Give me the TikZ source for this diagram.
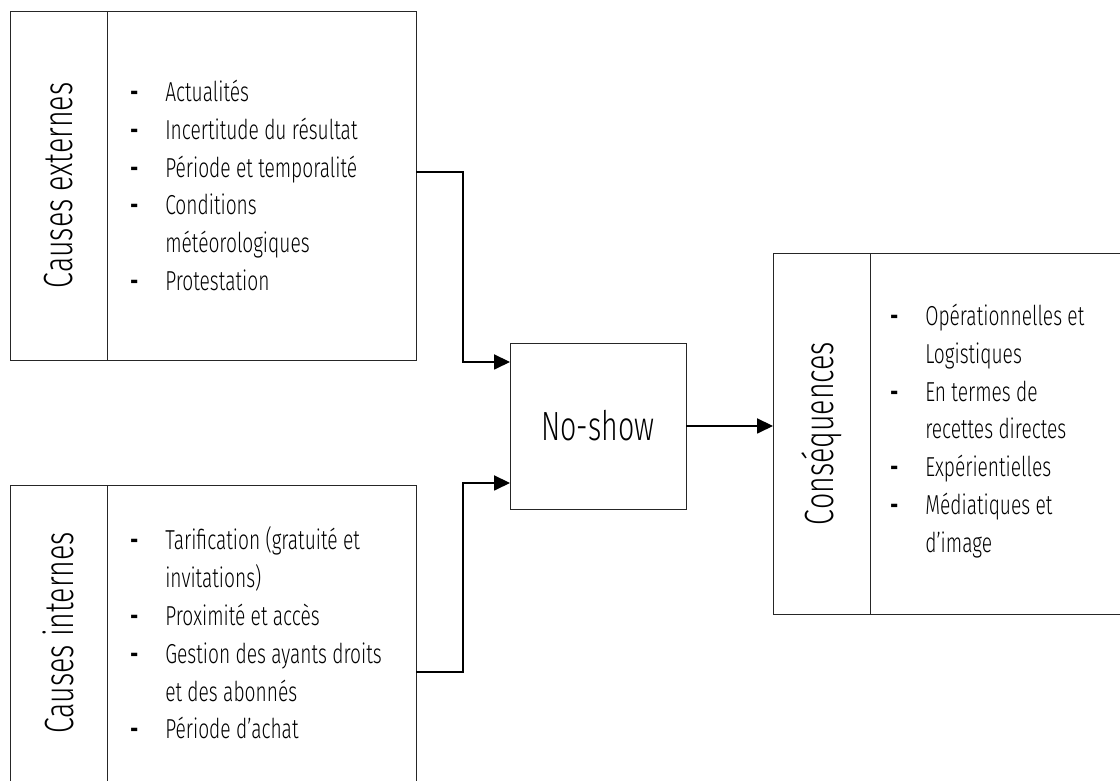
\documentclass[tikz,border=0pt]{standalone}
\usepackage{fontspec}
\setmainfont[FakeStretch=0.7]{Fira Sans Light}
\newfontfamily\tiretfont[FakeStretch=0.7]{Fira Sans}
\usetikzlibrary{positioning,arrows.meta}

\newcommand{\tiret}{\makebox[0.875cm][l]{{\tiretfont\bfseries -}}}
\newcommand{\suite}{\hspace*{0.875cm}}

\begin{document}
\begin{tikzpicture}[>={Triangle[length=4mm,width=3.8mm]},
    cadre/.style={draw=black!85, line width=0.6pt, outer sep=0pt, inner sep=0pt},
    titre/.style={rotate=90, font=\fontsize{29}{34}\selectfont, inner sep=0pt},
    liste/.style={anchor=west, align=left, inner sep=0pt, font=\fontsize{19.5}{26.9}\selectfont},
    fleche/.style={->, line width=0.8pt}]

    \useasboundingbox (0,0) rectangle (28,19.525);
    \clip (0,0) rectangle (28,19.525);

    % Causes externes
    \node[cadre, minimum width=2.425cm, minimum height=8.725cm] (ext) at (1.4625,14.8875) {};
    \node[cadre, minimum width=7.725cm, minimum height=8.725cm, right=0pt of ext] (extbox) {};
    \node[titre] (extlab) at (ext.center) {Causes externes};
    \node[liste] (extlist) at ([xshift=0.575cm]extbox.west)
        {\tiret Actualités\\
         \tiret Incertitude du résultat\\
         \tiret Période et temporalité\\
         \tiret Conditions\\
         \suite météorologiques\\
         \tiret Protestation};

    % Causes internes
    \node[cadre, minimum width=2.425cm, minimum height=8.725cm] (int) at (1.4625,3.0375) {};
    \node[cadre, minimum width=7.725cm, minimum height=8.725cm, right=0pt of int] (intbox) {};
    \node[titre] (intlab) at ([yshift=0.6625cm]int.center) {Causes internes};
    \node[liste] (intlist) at ([xshift=0.575cm, yshift=0.6625cm]intbox.west)
        {\tiret Tarification (gratuité et\\
         \suite invitations)\\
         \tiret Proximité et accès\\
         \tiret Gestion des ayants droits\\
         \suite et des abonnés\\
         \tiret Période d’achat};

    % No-show
    \node[cadre, minimum width=4.4cm, minimum height=4.15cm, font=\fontsize{29}{34}\selectfont] (nosh) at (14.95,8.875) {No-show};

    % Conséquences
    \node[cadre, minimum width=2.425cm, minimum height=9.025cm] (cons) at (20.5375,8.6875) {};
    \node[cadre, minimum width=6.5cm, minimum height=9.025cm, right=0pt of cons] (consbox) {};
    \node[titre] (conslab) at (cons.center) {Conséquences};
    \node[liste] (conslist) at ([xshift=0.5cm, yshift=0.0625cm]consbox.west)
        {\tiret Opérationnelles et\\
         \suite Logistiques\\
         \tiret En termes de\\
         \suite recettes directes\\
         \tiret Expérientielles\\
         \tiret Médiatiques et\\
         \suite d’image};

    % Liens vers le no-show
    \draw[fleche] ([yshift=0.3375cm]extbox.east) -- ++(1.175,0) |- ([yshift=1.6cm]nosh.west);
    \draw[fleche] ([yshift=-0.3125cm]intbox.east) -- ++(1.175,0) |- ([yshift=-1.425cm]nosh.west);
    \draw[fleche] (nosh.east) -- (nosh.east -| cons.west);

\end{tikzpicture}
\end{document}
